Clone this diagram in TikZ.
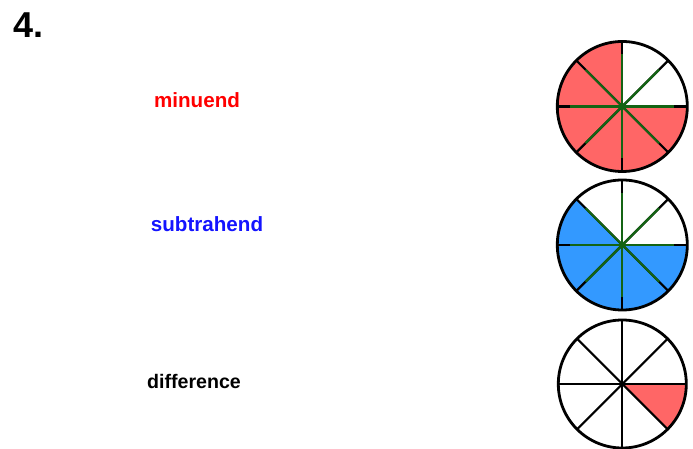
\documentclass[tikz,border=0pt]{standalone}
\usepackage{fontspec}
\setmainfont{Liberation Sans}
\definecolor{fillred}{RGB}{255,102,102}
\definecolor{fillblue}{RGB}{51,153,255}
\definecolor{spokegreen}{RGB}{20,100,20}
\definecolor{txtred}{RGB}{255,0,0}
\definecolor{txtblue}{RGB}{20,20,255}
\tikzset{
  rim/.style={draw=black, line width=2.8pt},
  spoke/.style={draw=black, line width=2.2pt},
  gspoke/.style={draw=spokegreen, line width=2.2pt},
  lbl/.style={anchor=base, inner sep=0pt, font=\bfseries\fontsize{20.6}{24}\selectfont},
}
\begin{document}
\begin{tikzpicture}[x=1pt,y=1pt]
\useasboundingbox (0,0) rectangle (693,449);
\fill[white] (0,0) rectangle (693,449);
% number
\node[anchor=base west, inner sep=0pt, font=\bfseries\fontsize{36}{40}\selectfont] (num) at (13,411) {4.};
% labels
\node[lbl, text=txtred] (minuend) at (197,341) {minuend};
\node[lbl, text=txtblue] (subtrahend) at (207,217.3) {subtrahend};
\node[lbl, font=\bfseries\fontsize{19.6}{23}\selectfont] (difference) at (194,60) {difference};
% centers
\coordinate (c1) at (622.3,342.5);
\coordinate (c2) at (622.3,204);
\coordinate (c3) at (622.3,65);
% circle 1
\fill[fillred] (c1) -- ++(90:65) arc[start angle=90, end angle=360, radius=65] -- cycle;
\foreach \a in {0,45,...,315} { \draw[spoke] (c1) -- ++(\a:65); }
\foreach \a in {0,45,...,315} { \draw[gspoke] (c1) -- ++(\a:52); }
\draw[rim] (c1) circle[radius=65];
\fill[spokegreen] (c1) circle[radius=3.5];
% circle 2
\fill[fillblue] (c2) -- ++(135:65) arc[start angle=135, end angle=360, radius=65] -- cycle;
\foreach \a in {0,45,...,315} { \draw[spoke] (c2) -- ++(\a:65); }
\foreach \a in {0,45,...,315} { \draw[gspoke] (c2) -- ++(\a:52); }
\draw[rim] (c2) circle[radius=65];
\fill[spokegreen] (c2) circle[radius=3.5];
% circle 3
\fill[fillred] (c3) -- ++(-45:64) arc[start angle=-45, end angle=0, radius=64] -- cycle;
\foreach \a in {0,45,...,315} { \draw[spoke] (c3) -- ++(\a:64); }
\draw[rim] (c3) circle[radius=64];
\fill[black] (c3) circle[radius=2.5];
\end{tikzpicture}
\end{document}
